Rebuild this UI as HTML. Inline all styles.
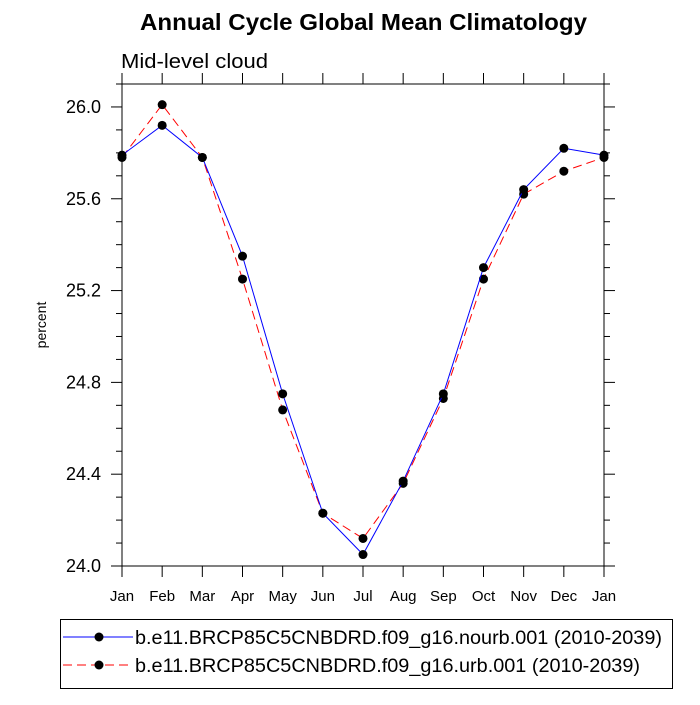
<!DOCTYPE html>
<html><head><meta charset="utf-8"><style>
body{margin:0;background:#fff}
svg text{font-family:"Liberation Sans",sans-serif}
</style></head><body>
<svg id="c" width="700" height="700" xmlns="http://www.w3.org/2000/svg">
<text x="140" y="30" font-size="23" font-weight="bold" textLength="447" lengthAdjust="spacingAndGlyphs">Annual Cycle Global Mean Climatology</text>
<text x="121" y="68" font-size="20.5" textLength="147" lengthAdjust="spacingAndGlyphs">Mid-level cloud</text>
<text transform="translate(46,325) rotate(-90)" text-anchor="middle" font-size="14">percent</text>
<g id="axes"></g>
<g id="series"></g>
<g>
<rect x="60.5" y="619.5" width="612" height="69" fill="none" stroke="#000" stroke-width="1"/>
<line x1="63" y1="637" x2="133" y2="637" stroke="#00f" stroke-width="1"/>
<circle cx="99" cy="637" r="4.5" fill="#000"/>
<text x="135" y="644" font-size="19.5" textLength="527" lengthAdjust="spacingAndGlyphs">b.e11.BRCP85C5CNBDRD.f09_g16.nourb.001 (2010-2039)</text>
<line x1="63" y1="665" x2="133" y2="665" stroke="#f00" stroke-width="1" stroke-dasharray="9,5"/>
<circle cx="99" cy="665" r="4.5" fill="#000"/>
<text x="135" y="672" font-size="19.5" textLength="505" lengthAdjust="spacingAndGlyphs">b.e11.BRCP85C5CNBDRD.f09_g16.urb.001 (2010-2039)</text>
</g>
</svg>
<script>
const months=["Jan","Feb","Mar","Apr","May","Jun","Jul","Aug","Sep","Oct","Nov","Dec","Jan"];
const nourb=[25.79,25.92,25.78,25.35,24.75,24.23,24.05,24.37,24.75,25.30,25.64,25.82,25.79];
const urb=[25.78,26.01,25.78,25.25,24.68,24.23,24.12,24.36,24.73,25.25,25.62,25.72,25.78];
const yTicks=["24.0","24.4","24.8","25.2","25.6","26.0"];
const L=122,R=604,T=84,B=566,YMIN=24.0,YMAX=26.1;
const NS="http://www.w3.org/2000/svg";
const xs=i=>L+(R-L)*i/(months.length-1);
const ys=v=>B-(v-YMIN)/(YMAX-YMIN)*(B-T);
function mk(tag,a,p){const e=document.createElementNS(NS,tag);for(const k in a)e.setAttribute(k,a[k]);p.appendChild(e);return e;}
const ax=document.getElementById('axes');
const fr=mk('rect',{x:L,y:T,width:R-L,height:B-T,fill:'none',stroke:'#000','stroke-width':1},ax);


months.forEach((m,i)=>{const x=xs(i);
mk('line',{x1:x,y1:B,x2:x,y2:B+11,stroke:'#000'},ax);
mk('line',{x1:x,y1:T,x2:x,y2:T-11,stroke:'#000'},ax);
const t=mk('text',{x:x,y:B+35,'text-anchor':'middle','font-size':15},ax);t.textContent=m;

});
for(let k=0;k<=21;k++){const v=YMIN+k*0.1;const y=ys(v);const major=k%4===0;const len=major?11:6;
mk('line',{x1:L,y1:y,x2:L-len,y2:y,stroke:'#000'},ax);
mk('line',{x1:R,y1:y,x2:R+len,y2:y,stroke:'#000'},ax);}
yTicks.forEach(s=>{const y=ys(parseFloat(s));const t=mk('text',{x:101,y:y+6,'text-anchor':'end','font-size':18},ax);t.textContent=s;

});
const sg=document.getElementById('series');
function draw(vals,col,dash,name){
const p=mk('polyline',{points:vals.map((v,i)=>xs(i)+','+ys(v)).join(' '),fill:'none',stroke:col,'stroke-width':1,'stroke-dasharray':dash},sg);


vals.forEach((v,i)=>{const c=mk('circle',{cx:xs(i),cy:ys(v),r:4.5,fill:'#000'},sg);

});}
draw(urb,'#f00','9,5','urb');
draw(nourb,'#00f','none','nourb');
</script>
</body></html>
